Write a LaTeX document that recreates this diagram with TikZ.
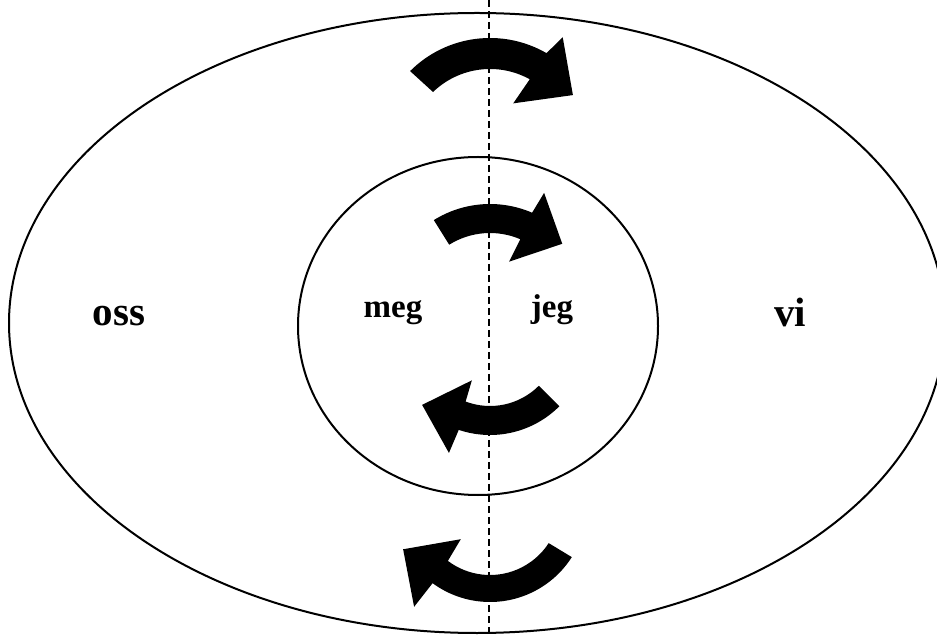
\documentclass[tikz,border=0pt]{standalone}
\usepackage{fontspec}
\setmainfont{Liberation Serif}
\begin{document}
\begin{tikzpicture}[x=1pt,y=1pt,
  ring/.style={draw=black,line width=2pt},
  divider/.style={draw=black,line width=1.8pt,dash pattern=on 7pt off 4pt},
  biglabel/.style={font=\fontsize{41}{48}\selectfont\bfseries,inner sep=0pt,anchor=base},
  smalllabel/.style={font=\fontsize{33}{38}\selectfont\bfseries,inner sep=0pt,anchor=base},
  turn/.style={fill=black}]
\useasboundingbox (0,0) rectangle (937,635);
\fill[white] (0,0) rectangle (937,635);
% outer ellipse and inner circle
\draw[ring] (477,312) ellipse[x radius=468, y radius=310];
\draw[ring] (478,309) ellipse[x radius=180, y radius=169];
% divider
\coordinate (dtop) at (489,635);
\coordinate (dbot) at (489,0);
\draw[divider] (dtop) -- (dbot);
% labels
\node[biglabel] (oss) at (119,309) {oss};
\node[biglabel] (vi) at (790,308) {vi};
\node[smalllabel] (meg) at (393,317) {meg};
\node[smalllabel] (jeg) at (552,317) {jeg};
% arrow 1 (top, outer)
\begin{scope}[shift={(490,484)}]
\fill[turn] (135:113) arc[start angle=135,end angle=60,radius=113] -- (57.4:135) -- (34:100) -- (64:53) -- (61:82) arc[start angle=61,end angle=134,radius=82] -- cycle;
\end{scope}
% arrow 2 (top, inner)
\begin{scope}[shift={(490,325)}]
\fill[turn] (122:106) arc[start angle=122,end angle=66.6,radius=106] -- (65.2:129) -- (42.5:98) -- (68.4:52) -- (66.8:77) arc[start angle=66.8,end angle=122,radius=77] -- cycle;
\end{scope}
% arrow 3 (bottom, inner)
\begin{scope}[shift={(490,298)}]
\fill[turn] (-45:98) arc[start angle=-45,end angle=-108.6,radius=98] -- (-109.5:123) -- (-135:96) -- (-112.7:47) -- (-110.7:69) arc[start angle=-110.7,end angle=-45,radius=69] -- cycle;
\end{scope}
% arrow 4 (bottom, outer)
\begin{scope}[shift={(490,130)}]
\fill[turn] (-32.5:97) arc[start angle=-32.5,end angle=-126.3,radius=97] -- (-126.7:127) -- (-153:97.5) -- (-130.5:45) -- (-127:70) arc[start angle=-127,end angle=-33,radius=70] -- cycle;
\end{scope}
\end{tikzpicture}
\end{document}
